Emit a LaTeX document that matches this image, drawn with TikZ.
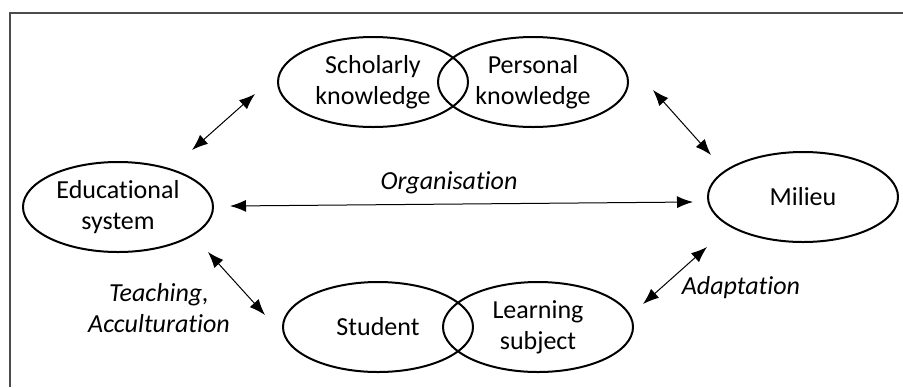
\documentclass[tikz,border=0pt]{standalone}
\usepackage{fontspec}
\setmainfont{Carlito}[Ligatures={NoCommon}]
\usetikzlibrary{arrows.meta,shapes.geometric}
\begin{document}
\begin{tikzpicture}[x=0.5pt,y=-0.5pt]
		\tikzset{vertex/.style = {shape=ellipse,draw,line width=1pt,minimum width=95pt,minimum height=45pt,inner sep=0pt,align=center,font=\fontsize{13}{15.5}\selectfont}}
		\tikzset{link/.style = {<->,> = {Latex[length=8pt,width=6pt]},line width=0.5pt}}
		\tikzset{lbl/.style = {font=\fontsize{13}{15.5}\selectfont\itshape,align=center}}
		\useasboundingbox (0,0) rectangle (903,387);
		\draw[line width=0.8pt,black!70] (10,387) -- (10,13) -- (903,13);
		\node[vertex] (scholarly) at (373,82) {Scholarly\\knowledge};
		\node[vertex] (personal) at (533,82) {Personal\\knowledge};
		\node[vertex] (edu) at (118,207) {Educational\\system};
		\node[vertex] (milieu) at (803,197) {Milieu};
		\node[vertex] (student) at (378,327) {Student};
		\node[vertex] (learning) at (538,327) {Learning\\subject};
		\coordinate (es1) at (192,150);
		\coordinate (es2) at (255,94);
		\coordinate (pm1) at (653,90);
		\coordinate (pm2) at (711,155);
		\coordinate (em1) at (230,206);
		\coordinate (em2) at (693,202);
		\coordinate (est1) at (208,252);
		\coordinate (est2) at (265,315);
		\coordinate (lm1) at (643,304);
		\coordinate (lm2) at (707,247);
		\draw[link] (es1) -- (es2);
		\draw[link] (pm1) -- (pm2);
		\draw[link] (em1) -- (em2);
		\draw[link] (est1) -- (est2);
		\draw[link] (lm1) -- (lm2);
		\node[lbl] (organisation) at (449,183) {Organisation};
		\node[lbl] (teaching) at (159,308) {Teaching,\\Acculturation};
		\node[lbl] (adaptation) at (741,288) {Adaptation};
	\end{tikzpicture}
\end{document}
